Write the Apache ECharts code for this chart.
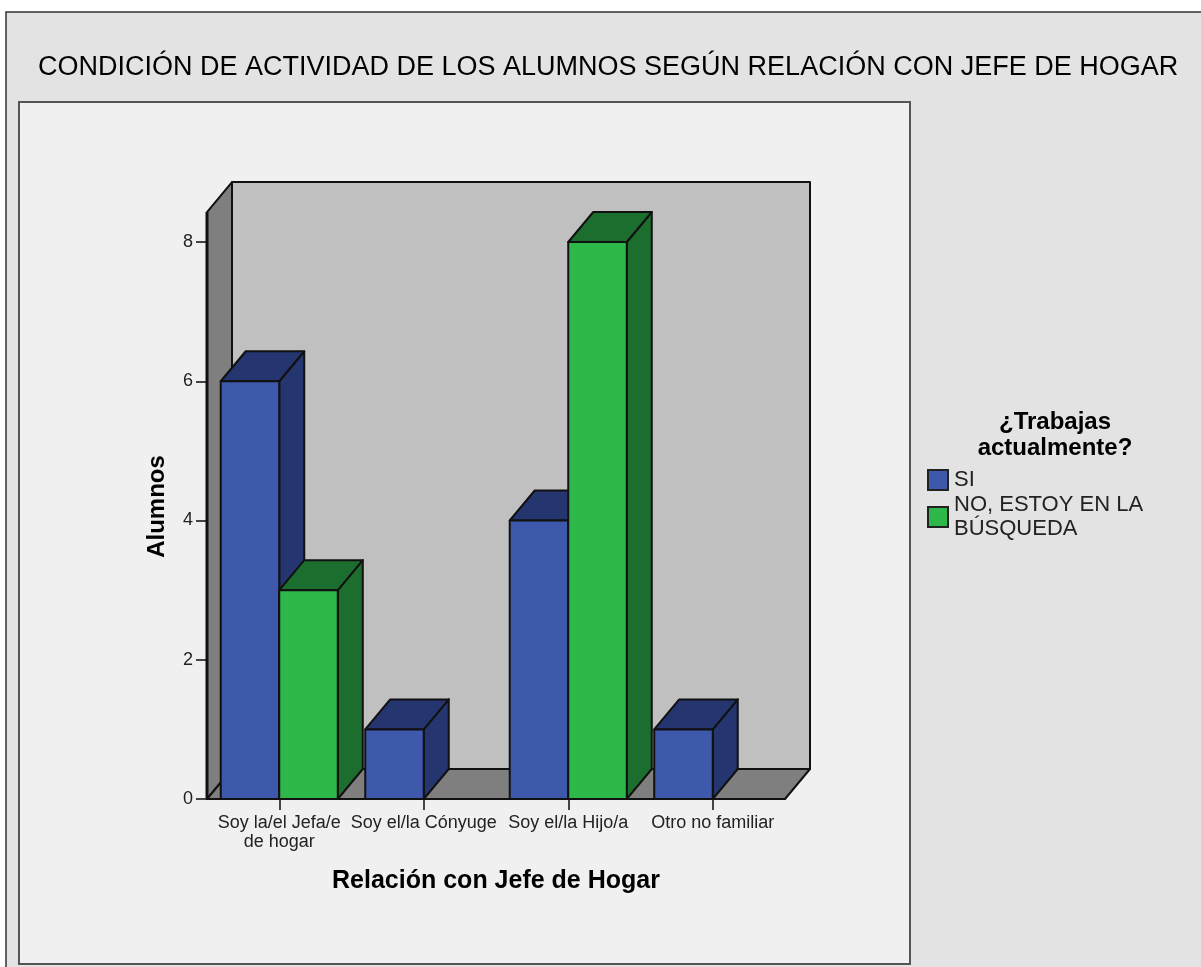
<!DOCTYPE html>
<html>
<head>
<meta charset="utf-8">
<style>html,body{margin:0;padding:0;background:#fff}#chart{width:1201px;height:967px}</style>
<script src="https://cdn.jsdelivr.net/npm/echarts@6/dist/echarts.min.js"></script>
</head>
<body>
<div id="chart"></div>
<script>
// Alumnos por relación con el jefe de hogar, en barras con aspecto 3D
const categories = ['Soy la/el Jefa/e\nde hogar', 'Soy el/la Cónyuge', 'Soy el/la Hijo/a', 'Otro no familiar'];
const seriesNames = ['SI', 'NO, ESTOY EN LA\nBÚSQUEDA'];
const valuesSi = [6, 1, 4, 1];
const valuesNo = [3, 0, 8, 0];
const yTicks = [0, 2, 4, 6, 8];
const wallTop = [8.43];

const DEPTH_X = 25, DEPTH_Y = 30;
const EDGE = '#111';
const FONT = '"Liberation Sans", Arial, sans-serif';

function face(points, fill) {
  return {
    type: 'polygon',
    shape: { points },
    style: { fill, stroke: EDGE, lineWidth: 2, lineJoin: 'round' }
  };
}

// Paredes y piso del recinto, extendidos desde el área de la grilla
function renderWalls(params, api) {
  const cs = params.coordSys;
  const l = cs.x, r = cs.x + cs.width;
  const y0 = api.coord([0, 0])[1];
  const yT = api.coord([0, api.value(0)])[1];
  const dx = DEPTH_X, dy = DEPTH_Y;
  return {
    type: 'group',
    children: [
      face([[l + dx, yT - dy], [r + dx, yT - dy], [r + dx, y0 - dy], [l + dx, y0 - dy]], '#c0c0c0'),
      face([[l, y0], [l, yT], [l + dx, yT - dy], [l + dx, y0 - dy]], '#7f7f7f'),
      face([[l, y0], [r, y0], [r + dx, y0 - dy], [l + dx, y0 - dy]], '#7f7f7f'),
      { type: 'line', shape: { x1: l, y1: y0, x2: l, y2: yT }, style: { stroke: EDGE, lineWidth: 3 } }
    ]
  };
}

// Prisma de una barra: lado 0 a la izquierda del centro de la categoría, lado 1 a la derecha
function prism(side, front, dark) {
  return function (params, api) {
    const value = api.value(1);
    if (!value) return null;
    const base = api.coord([api.value(0), 0]);
    const top = api.coord([api.value(0), value]);
    const w = api.size([1, 0])[0] * 0.405;
    const x0 = base[0] + (side === 0 ? -w : 0);
    const x1 = x0 + w;
    const dx = DEPTH_X, dy = DEPTH_Y;
    return {
      type: 'group',
      children: [
        face([[x1, base[1]], [x1, top[1]], [x1 + dx, top[1] - dy], [x1 + dx, base[1] - dy]], dark),
        face([[x0, top[1]], [x1, top[1]], [x1 + dx, top[1] - dy], [x0 + dx, top[1] - dy]], dark),
        face([[x0, base[1]], [x0, top[1]], [x1, top[1]], [x1, base[1]]], front)
      ]
    };
  };
}

const chart = echarts.init(document.getElementById('chart'), null, { renderer: 'canvas' });
chart.setOption({
  animation: false,
  backgroundColor: '#ffffff',
  textStyle: { fontFamily: FONT },
  title: {
    text: 'CONDICIÓN DE ACTIVIDAD DE LOS ALUMNOS SEGÚN RELACIÓN CON JEFE DE HOGAR',
    left: 33, top: 49,
    textStyle: { fontFamily: FONT, fontSize: 27, fontWeight: 'normal', color: '#000' }
  },
  grid: { left: 207, right: 416, top: 242, bottom: 168 },
  xAxis: {
    type: 'category',
    data: categories,
    name: 'Relación con Jefe de Hogar',
    nameLocation: 'middle',
    nameGap: 70,
    nameTextStyle: { fontFamily: FONT, fontSize: 25, fontWeight: 'bold', color: '#000' },
    axisLine: { lineStyle: { color: EDGE, width: 2 } },
    axisTick: { show: true, alignWithLabel: true, length: 11, lineStyle: { color: '#444', width: 2 } },
    axisLabel: { interval: 0, margin: 15, fontFamily: FONT, fontSize: 18, lineHeight: 19, color: '#222' }
  },
  yAxis: {
    type: 'value',
    min: 0, max: yTicks[yTicks.length - 1], interval: 2,
    name: 'Alumnos',
    nameLocation: 'middle',
    nameGap: 38,
    nameRotate: 90,
    nameTextStyle: { fontFamily: FONT, fontSize: 24, fontWeight: 'bold', color: '#000', padding: [0, 0, 0, 28] },
    splitLine: { show: false },
    axisLine: { show: true, lineStyle: { color: EDGE, width: 2 } },
    axisTick: { show: true, length: 11, lineStyle: { color: '#444', width: 2 } },
    axisLabel: { margin: 14, fontFamily: FONT, fontSize: 18, color: '#222', padding: [3, 0, 0, 0] }
  },
  legend: {
    orient: 'vertical',
    left: 927, top: 466, padding: 0,
    itemWidth: 20, itemHeight: 20, itemGap: -3,
    icon: 'rect',
    data: seriesNames,
    selectedMode: false,
    textStyle: { fontFamily: FONT, fontSize: 22, lineHeight: 24, color: '#222', padding: [4, 0, 0, 1] }
  },
  graphic: [
    { type: 'rect', z: -2, shape: { x: 6, y: 12, width: 1200, height: 960 },
      style: { fill: '#e3e3e3', stroke: '#333', lineWidth: 1.5 } },
    { type: 'rect', z: -1, shape: { x: 19, y: 102, width: 891, height: 862 },
      style: { fill: '#f0f0f0', stroke: '#555', lineWidth: 2 } },
    { type: 'text', x: 1055, y: 409, z: 5,
      style: { text: '¿Trabajas\nactualmente?', align: 'center',
        font: 'bold 24px ' + FONT, lineHeight: 26, fill: '#000' } }
  ],
  series: [
    { type: 'custom', name: 'recinto', silent: true, data: [wallTop], renderItem: renderWalls,
      encode: { y: 0 } },
    { type: 'custom', name: seriesNames[0], renderItem: prism(0, '#3e58ac', '#25356f'),
      itemStyle: { color: '#3e58ac', borderColor: '#222', borderWidth: 2 },
      data: valuesSi.map((v, i) => [i, v]), encode: { x: 0, y: 1 } },
    { type: 'custom', name: seriesNames[1], renderItem: prism(1, '#2eb84c', '#1c6e2e'),
      itemStyle: { color: '#2eb84c', borderColor: '#222', borderWidth: 2 },
      data: valuesNo.map((v, i) => [i, v]), encode: { x: 0, y: 1 } }
  ]
});
</script>
</body>
</html>
